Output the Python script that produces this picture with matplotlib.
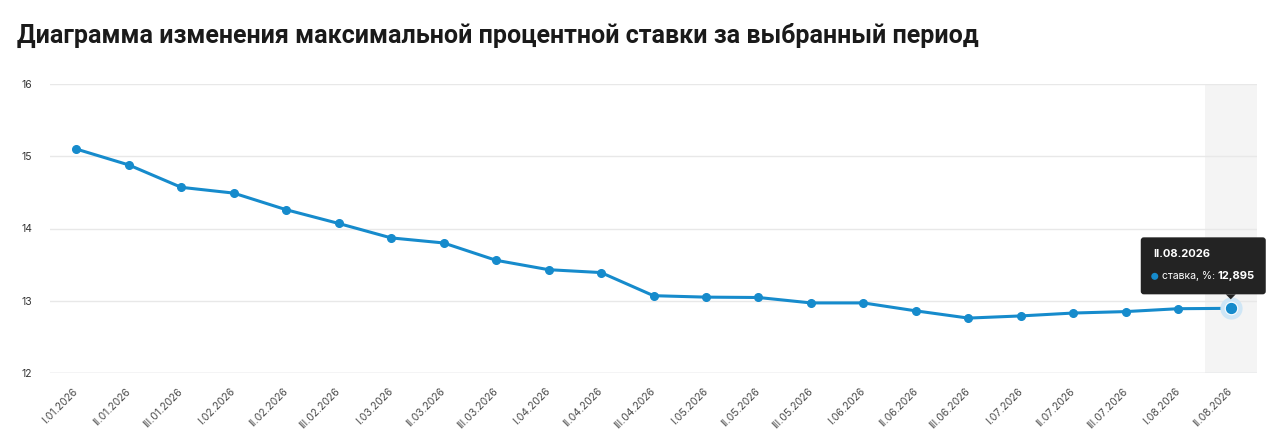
import matplotlib
matplotlib.use("Agg")
import matplotlib.pyplot as plt
from matplotlib.patches import FancyBboxPatch, Polygon
from matplotlib.transforms import IdentityTransform

plt.rcParams["font.family"] = ["Inter", "DejaVu Sans"]

# data
periods = [
    "I.01.2026", "II.01.2026", "III.01.2026",
    "I.02.2026", "II.02.2026", "III.02.2026",
    "I.03.2026", "II.03.2026", "III.03.2026",
    "I.04.2026", "II.04.2026", "III.04.2026",
    "I.05.2026", "II.05.2026", "III.05.2026",
    "I.06.2026", "II.06.2026", "III.06.2026",
    "I.07.2026", "II.07.2026", "III.07.2026",
    "I.08.2026", "II.08.2026",
]
rate = [
    15.10, 14.88, 14.57,
    14.49, 14.26, 14.07,
    13.87, 13.80, 13.56,
    13.43, 13.39, 13.07,
    13.05, 13.045, 12.97,
    12.97, 12.86, 12.76,
    12.79, 12.83, 12.85,
    12.89, 12.895,
]
y_ticks = [12, 13, 14, 15, 16]
hover_idx = len(periods) - 1

BLUE = "#168bcc"
GRID = "#e8e8e8"
TEXT = "#333333"

W, H = 1280, 441
fig = plt.figure(figsize=(W / 100, H / 100), dpi=100, facecolor="white")
ax = fig.add_axes([50 / W, 68 / H, 1207 / W, 289 / H])
x = list(range(len(periods)))

ax.set_xlim(-0.5, len(periods) - 0.5)
ax.set_ylim(12, 16)
ax.set_yticks(y_ticks)
ax.set_yticklabels([str(v) for v in y_ticks])
ax.set_xticks(x)
ax.set_xticklabels(periods, rotation=45, ha="right", va="center",
                   rotation_mode="anchor")
ax.tick_params(axis="x", length=0, pad=12, labelsize=7.5, labelcolor="#4a4a4a")
ax.tick_params(axis="y", length=0, pad=13, labelsize=7.5, labelcolor=TEXT)
for s in ax.spines.values():
    s.set_visible(False)
ax.grid(axis="y", color=GRID, linewidth=1)
ax.set_axisbelow(True)

# highlighted column for hovered category
ax.axvspan(hover_idx - 0.5, hover_idx + 0.5, color="#f4f4f4", zorder=0, lw=0)
ax.axhline(12, color="#dcdde3", lw=1, zorder=1)

ax.plot(x, rate, color=BLUE, lw=2.2, marker="o", markersize=5.5, zorder=3)
ax.plot(x[hover_idx], rate[hover_idx], "o", color="#cfe6f6", markersize=15, zorder=4)
ax.plot(x[hover_idx], rate[hover_idx], "o", color=BLUE, markersize=9,
        markeredgecolor="white", markeredgewidth=0.8, zorder=5)

fig.text(17 / W, 1 - 35 / H,
         "Диаграмма изменения максимальной процентной ставки за выбранный период",
         fontsize=18, fontweight="bold", color="#1a1a1a", va="center", ha="left",
         family=["Roboto", "DejaVu Sans"])

# tooltip anchored to hovered point (pixel coords)
px, py = ax.transData.transform((x[hover_idx], rate[hover_idx]))
idt = IdentityTransform()
bx0, bx1 = px - 90, px + 35
by0, by1 = py + 14, py + 71
fig.patches.append(FancyBboxPatch((bx0, by0), bx1 - bx0, by1 - by0,
                                  boxstyle="round,pad=0,rounding_size=3",
                                  facecolor="#232323", edgecolor="none",
                                  transform=idt, figure=fig, zorder=10))
fig.patches.append(Polygon([(px - 5, by0), (px + 5, by0), (px, py + 9)], closed=True,
                           facecolor="#232323", edgecolor="none",
                           transform=idt, figure=fig, zorder=10))
fig.text(bx0 + 12, by1 - 17, periods[hover_idx], transform=idt, color="white",
         fontsize=8, fontweight="bold", va="center", ha="left", zorder=11)
fig.patches.append(plt.Circle((bx0 + 14, by1 - 39), 2.8, color=BLUE,
                              transform=idt, figure=fig, zorder=11))
t = fig.text(bx0 + 21, by1 - 39, "ставка, %: ", transform=idt, color="white",
             fontsize=7.5, va="center", ha="left", zorder=11)
fig.canvas.draw()
tw = t.get_window_extent().width
fig.text(bx0 + 21 + tw, by1 - 39, f"{rate[hover_idx]:.3f}".replace(".", ","),
         transform=idt, color="white", fontsize=8, fontweight="bold",
         va="center", ha="left", zorder=11)

fig.savefig("out.png", dpi=100, facecolor="white")
